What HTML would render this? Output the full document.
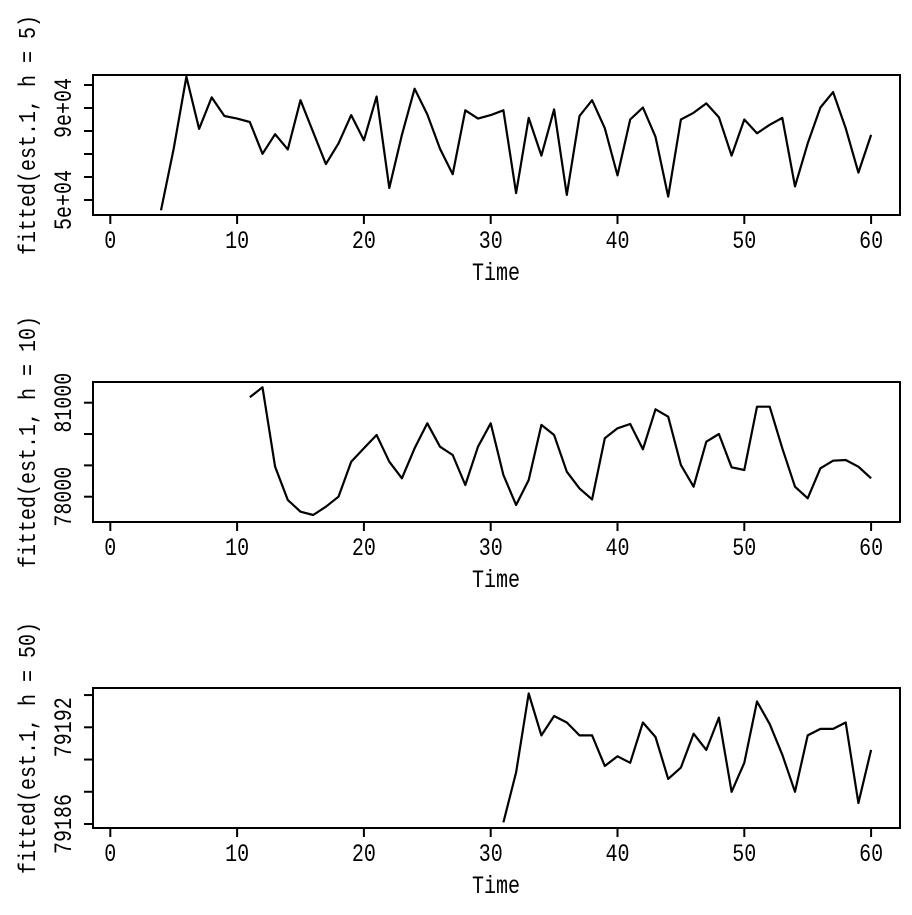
<!DOCTYPE html>
<html><head><meta charset="utf-8"><style>
body{margin:0;background:#fff}
svg text{font-family:"Liberation Mono",monospace;font-size:20px;fill:#000}
</style></head><body>
<svg id="c" width="912" height="910" xmlns="http://www.w3.org/2000/svg"></svg>
<script>
const xTicks=[0,10,20,30,40,50,60];
const p1Start=4;
const p1Values=[45.5e3,72.3e3,103.6e3,80.9e3,94.6e3,86.5e3,85.4e3,83.9e3,70.1e3,78.6e3,72e3,93.4e3,79.5e3,65.6e3,74.6e3,86.9e3,76e3,95e3,55.2e3,78.3e3,98.4e3,87.2e3,72.3e3,61.2e3,89e3,85.4e3,86.9e3,89e3,53e3,85.7e3,69.3e3,89.4e3,52.2e3,86.5e3,93.4e3,81.2e3,60.7e3,85e3,90.2e3,77.5e3,51.5e3,85e3,87.9e3,92e3,86e3,69.3e3,85e3,79e3,82.7e3,85.7e3,55.9e3,74.6e3,90.2e3,96.9e3,81.2e3,61.9e3,78.3e3];
const p1YTicks=[50000,60000,70000,80000,90000,100000];
const p1YLabels=[[50000,"5e+04"],[90000,"9e+04"]];
const p2Start=11;
const p2Values=[81172,81492,78958,77895,77521,77416,77681,78000,79117,79545,79969,79117,78587,79545,80343,79596,79331,78373,79596,80343,78693,77735,78533,80290,79969,78798,78266,77915,79864,80183,80320,79513,80790,80553,79012,78319,79756,80001,78937,78851,80873,80873,79545,78319,77948,78905,79149,79170,78958,78587];
const p2YTicks=[78000,79000,80000,81000];
const p2YLabels=[[78000,"78000"],[81000,"81000"]];
const p3Start=31;
const p3Values=[79186.1,79189.2,79194.1,79191.5,79192.7,79192.3,79191.5,79191.5,79189.6,79190.2,79189.8,79192.3,79191.4,79188.8,79189.5,79191.6,79190.6,79192.6,79188.0,79189.8,79193.6,79192.2,79190.3,79188.0,79191.5,79191.9,79191.9,79192.3,79187.3,79190.6];
const p3YTicks=[79186,79188,79190,79192,79194];
const p3YLabels=[[79186,"79186"],[79192,"79192"]];

const svg=document.getElementById('c');
const NS="http://www.w3.org/2000/svg";
function mk(tag,attrs,parent){const e=document.createElementNS(NS,tag);for(const k in attrs)e.setAttribute(k,attrs[k]);(parent||svg).appendChild(e);return e;}
const X=t=>110.3+t*12.68;
function panel(idx,top,bottom,start,vals,v0,py0,v1,py1,yticks,ylabels,title){
  const g=mk('g',{});
  
  
  const Y=v=>py0+(v-v0)*(py1-py0)/(v1-v0);
  const box=mk('rect',{x:93,y:top,width:807,height:bottom-top,fill:'none',stroke:'#000','stroke-width':2},g);
  
  
  xTicks.forEach(t=>{
    const l=mk('line',{x1:X(t),x2:X(t),y1:bottom,y2:bottom+9,stroke:'#000','stroke-width':2},g);
    
    
    const tx=mk('text',{x:0,y:0,'text-anchor':'middle','font-size':21,transform:`translate(${X(t)},${bottom+33}) scale(1,1.25)`},g);
    tx.textContent=t;
    
    
  });
  yticks.forEach(v=>{
    const l=mk('line',{x1:84,x2:93,y1:Y(v),y2:Y(v),stroke:'#000','stroke-width':2},g);
    
    
  });
  ylabels.forEach(([v,s])=>{
    const tx=mk('text',{x:0,y:0,'text-anchor':'middle','font-size':21,transform:`translate(71,${Y(v)}) rotate(-90) scale(1,1.25)`},g);
    tx.textContent=s;
    
    
  });
  const xt=mk('text',{x:0,y:0,'text-anchor':'middle',transform:`translate(496,${bottom+65}) scale(1,1.25)`},g);
  xt.textContent='Time';
  
  
  const yt=mk('text',{x:0,y:0,'text-anchor':'middle',transform:`translate(35,${(top+bottom)/2-10}) rotate(-90) scale(1,1.2)`},g);
  yt.textContent=title;
  
  
  const pts=vals.map((v,i)=>X(start+i).toFixed(1)+','+Y(v).toFixed(1)).join(' ');
  const pl=mk('polyline',{points:pts,fill:'none',stroke:'#000','stroke-width':2.2,'stroke-linejoin':'round'},g);
  
  
}
panel(1,75,215,p1Start,p1Values,50000,200,90000,108,p1YTicks,p1YLabels,'fitted(est.1, h = 5)');
panel(2,382,522,p2Start,p2Values,78000,496.7,81000,402.7,p2YTicks,p2YLabels,'fitted(est.1, h = 10)');
panel(3,688,828,p3Start,p3Values,79186,824,79192,727.3,p3YTicks,p3YLabels,'fitted(est.1, h = 50)');
</script>
</body></html>
